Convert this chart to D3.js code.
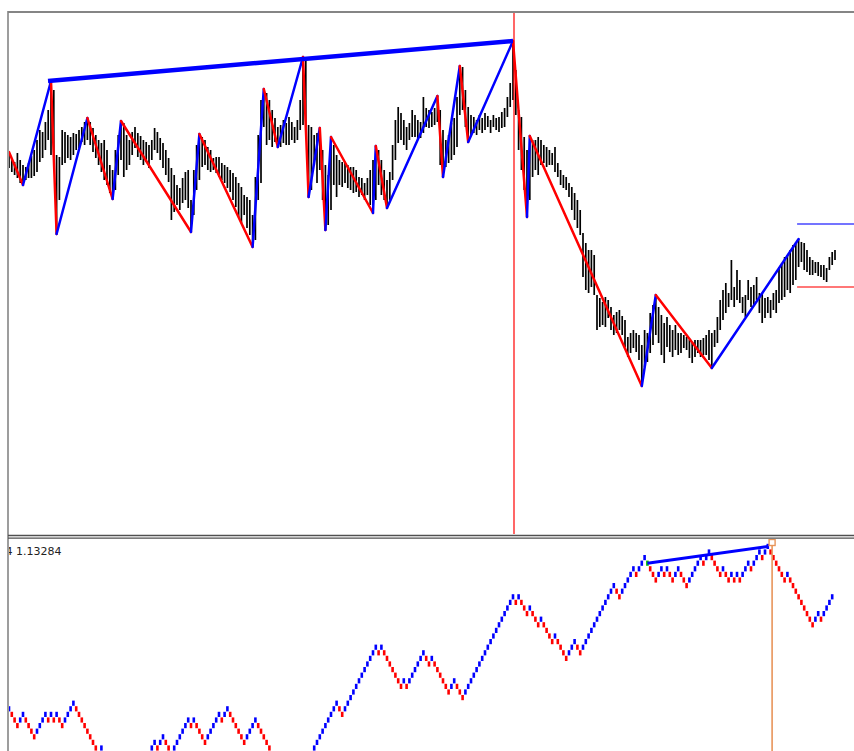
<!DOCTYPE html>
<meta charset="utf-8">
<script src="https://d3js.org/d3.v7.min.js"></script>
<style>
  body { margin: 0; background: #fff; }
</style>
<div id="chart"></div>
<script>

// bar highs / lows (one per bar, left to right)
const barHigh = [
  1.1448,1.1442,1.1438,1.1447,1.1440,1.1435,1.1433,1.1437,1.1444,1.1450,
  1.1460,1.1470,1.1468,1.1478,1.1490,1.1519,1.1510,1.1445,1.1443,1.1470,
  1.1468,1.1465,1.1463,1.1467,1.1466,1.1470,1.1473,1.1478,1.1482,1.1478,
  1.1472,1.1465,1.1460,1.1457,1.1460,1.1450,1.1435,1.1430,1.1450,1.1465,
  1.1479,1.1477,1.1465,1.1460,1.1468,1.1473,1.1467,1.1464,1.1460,1.1458,
  1.1455,1.1460,1.1472,1.1468,1.1462,1.1457,1.1450,1.1442,1.1432,1.1425,
  1.1415,1.1412,1.1422,1.1428,1.1430,1.1400,1.1430,1.1455,1.1466,1.1463,
  1.1460,1.1453,1.1450,1.1442,1.1443,1.1443,1.1437,1.1435,1.1433,1.1430,
  1.1427,1.1423,1.1417,1.1413,1.1405,1.1403,1.1400,1.1385,1.1423,1.1465,
  1.1500,1.1511,1.1507,1.1500,1.1490,1.1482,1.1473,1.1475,1.1480,1.1477,
  1.1483,1.1478,1.1473,1.1480,1.1500,1.1543,1.1540,1.1475,1.1473,1.1465,
  1.1467,1.1472,1.1450,1.1435,1.1425,1.1463,1.1455,1.1445,1.1440,1.1438,
  1.1437,1.1435,1.1433,1.1433,1.1430,1.1423,1.1422,1.1417,1.1422,1.1430,
  1.1440,1.1454,1.1450,1.1440,1.1430,1.1420,1.1428,1.1455,1.1480,1.1493,
  1.1487,1.1480,1.1473,1.1477,1.1490,1.1485,1.1480,1.1478,1.1503,1.1492,
  1.1490,1.1488,1.1492,1.1504,1.1490,1.1470,1.1460,1.1465,1.1477,1.1482,
  1.1503,1.1534,1.1533,1.1510,1.1493,1.1485,1.1483,1.1480,1.1485,1.1482,
  1.1487,1.1484,1.1480,1.1485,1.1482,1.1483,1.1488,1.1492,1.1503,1.1517,
  1.1559,1.1530,1.1490,1.1483,1.1463,1.1450,1.1464,1.1460,1.1460,1.1463,
  1.1460,1.1455,1.1453,1.1450,1.1447,1.1453,1.1437,1.1430,1.1425,1.1423,
  1.1417,1.1413,1.1407,1.1400,1.1390,1.1367,1.1357,1.1350,1.1350,1.1345,
  1.1305,1.1302,1.1298,1.1303,1.1300,1.1293,1.1285,1.1288,1.1290,1.1284,
  1.1280,1.1263,1.1267,1.1270,1.1267,1.1265,1.1255,1.1270,1.1267,1.1287,
  1.1295,1.1305,1.1293,1.1285,1.1277,1.1283,1.1275,1.1270,1.1275,1.1267,
  1.1267,1.1265,1.1263,1.1260,1.1257,1.1260,1.1260,1.1260,1.1262,1.1265,
  1.1270,1.1267,1.1270,1.1283,1.1300,1.1310,1.1317,1.1307,1.1340,1.1313,
  1.1330,1.1320,1.1303,1.1305,1.1320,1.1313,1.1315,1.1323,1.1307,1.1307,
  1.1302,1.1303,1.1300,1.1307,1.1310,1.1333,1.1337,1.1343,1.1345,1.1350,
  1.1355,1.1358,1.1361,1.1358,1.1357,1.1350,1.1343,1.1340,1.1338,1.1338,
  1.1335,1.1335,1.1332,1.1343,1.1348,1.1350
];
const barLow = [
  1.1432,1.1428,1.1425,1.1422,1.1417,1.1415,1.1420,1.1422,1.1422,1.1424,
  1.1428,1.1438,1.1442,1.1450,1.1460,1.1445,1.1443,1.1366,1.1400,1.1435,
  1.1437,1.1442,1.1440,1.1445,1.1450,1.1452,1.1458,1.1455,1.1460,1.1455,
  1.1448,1.1442,1.1435,1.1428,1.1420,1.1415,1.1407,1.1401,1.1410,1.1425,
  1.1440,1.1423,1.1430,1.1435,1.1445,1.1452,1.1443,1.1440,1.1435,1.1438,
  1.1432,1.1440,1.1450,1.1447,1.1440,1.1432,1.1425,1.1418,1.1380,1.1388,
  1.1395,1.1390,1.1397,1.1400,1.1392,1.1368,1.1385,1.1410,1.1420,1.1433,
  1.1435,1.1430,1.1428,1.1430,1.1427,1.1423,1.1420,1.1417,1.1412,1.1408,
  1.1400,1.1393,1.1383,1.1377,1.1385,1.1372,1.1365,1.1353,1.1360,1.1400,
  1.1417,1.1473,1.1455,1.1460,1.1453,1.1458,1.1453,1.1453,1.1457,1.1455,
  1.1455,1.1460,1.1457,1.1460,1.1470,1.1475,1.1470,1.1403,1.1410,1.1435,
  1.1417,1.1430,1.1400,1.1370,1.1375,1.1390,1.1415,1.1403,1.1415,1.1413,
  1.1417,1.1412,1.1410,1.1407,1.1408,1.1403,1.1405,1.1400,1.1405,1.1395,
  1.1387,1.1400,1.1415,1.1405,1.1400,1.1392,1.1400,1.1420,1.1440,1.1457,
  1.1460,1.1455,1.1450,1.1460,1.1463,1.1463,1.1460,1.1462,1.1467,1.1473,
  1.1472,1.1473,1.1475,1.1478,1.1435,1.1423,1.1433,1.1437,1.1440,1.1445,
  1.1453,1.1485,1.1490,1.1473,1.1458,1.1465,1.1467,1.1465,1.1470,1.1467,
  1.1470,1.1473,1.1467,1.1473,1.1470,1.1468,1.1472,1.1473,1.1483,1.1493,
  1.1500,1.1485,1.1450,1.1430,1.1410,1.1383,1.1400,1.1423,1.1430,1.1425,
  1.1435,1.1437,1.1433,1.1435,1.1435,1.1428,1.1423,1.1415,1.1412,1.1410,
  1.1403,1.1390,1.1380,1.1372,1.1365,1.1323,1.1310,1.1307,1.1313,1.1305,
  1.1270,1.1273,1.1275,1.1273,1.1282,1.1270,1.1265,1.1267,1.1270,1.1265,
  1.1253,1.1243,1.1247,1.1252,1.1248,1.1240,1.1214,1.1233,1.1238,1.1247,
  1.1255,1.1265,1.1257,1.1245,1.1237,1.1253,1.1248,1.1243,1.1250,1.1245,
  1.1247,1.1252,1.1250,1.1242,1.1237,1.1243,1.1247,1.1243,1.1245,1.1245,
  1.1240,1.1232,1.1253,1.1257,1.1270,1.1280,1.1287,1.1293,1.1300,1.1293,
  1.1300,1.1297,1.1287,1.1283,1.1300,1.1293,1.1295,1.1300,1.1287,1.1277,
  1.1282,1.1287,1.1282,1.1290,1.1287,1.1297,1.1300,1.1303,1.1310,1.1307,
  1.1315,1.1320,1.1333,1.1338,1.1330,1.1328,1.1325,1.1325,1.1327,1.1324,
  1.1323,1.1320,1.1318,1.1330,1.1335,1.1340
];

// zigzag turning points (bar index, price)
const zzIdx = [0, 5, 15, 17, 28, 37, 40, 65, 68, 87, 91, 96, 105, 107, 111, 113, 115,
  130, 131, 135, 153, 155, 161, 164, 180, 185, 186, 226, 231, 251, 282];
const zzPrice = [1.1448, 1.1415, 1.1519, 1.1366, 1.1482, 1.1401, 1.1479, 1.1368, 1.1466,
  1.1353, 1.1511, 1.1453, 1.1543, 1.1403, 1.1472, 1.1370, 1.1463, 1.1387, 1.1454, 1.1392,
  1.1504, 1.1423, 1.1534, 1.1458, 1.1559, 1.1383, 1.1464, 1.1214, 1.1305, 1.1232, 1.1361];

// thick trend line over the highs
const trendIdx = [15, 180];
const trendPrice = [1.1519, 1.1559];

// red marker bar and the two right-side levels
const markBar = 180;
const levelStart = 282;
const levelUp = 1.1376;
const levelDown = 1.1313;

// lower window: brick level per bar
const renko = [
  7,6,5,4,5,6,5,4,3,2, 3,4,5,6,5,6,5,6,5,4, 5,6,7,8,7,6,5,4,3,2,
  1,0,-1,0,-1,-2,-3,-2,-3,-4, -5,-4,-5,-6,-5,-4,-3,-4,-3,-2,
  -1,0,1,0,1,2,1,0,-1,0, 1,2,3,4,5,4,5,4,3,2, 1,2,3,4,5,6,5,6,7,6,
  5,4,3,2,1,2,3,4,5,4, 3,2,1,0,-1,-2,-3,-4,-3,-4, -5,-6,-5,-4,-3,-4,-3,-2,-1,0,
  1,2,3,4,5,6,7,8,7,6, 7,8,9,10,11,12,13,14,15,16, 17,18,17,18,17,16,15,14,13,12,
  11,12,11,12,13,14,15,16,17,16, 15,16,15,14,13,12,11,10,11,12, 11,10,9,10,11,12,13,14,15,16,
  17,18,19,20,21,22,23,24,25,26, 27,26,27,26,25,24,25,24,23,22, 23,22,21,20,19,20,19,18,17,16,
  17,18,19,18,17,18,19,20,21,22, 23,24,25,26,27,28,29,28,27,28, 29,30,31,32,31,32,33,34,33,32,
  31,30,31,32,31,32,31,30,31,32, 31,30,29,30,31,32,33,34,33,34, 35,34,33,32,31,32,31,30,31,30,
  31,30,31,32,33,32,33,34,35,34, 35,36,35,34,33,32,31,30,31,30, 29,28,27,26,25,24,23,22,23,24,
  23,24,25,26,27
];
const greenBrick = 228;
const renkoTrendIdx = [228, 271];
const renkoTrendLevel = [33, 36];
const renkoMark = 272;
const lowerLabel = "4 1.13284";

const W = 854, H = 751;
const svg = d3.select("#chart").append("svg")
  .attr("width", W).attr("height", H)
  .style("display", "block");

const x = d3.scaleLinear().domain([0, barHigh.length - 1]).range([9, 835]);
const y = d3.scaleLinear().domain([1.1067, 1.1588]).range([533, 12]);
const yLow = d3.scaleLinear().domain([0, 36]).range([748, 546.4]);

const defs = svg.append("defs");
defs.append("clipPath").attr("id", "clipMain")
  .append("rect").attr("x", 9).attr("y", 13).attr("width", W - 9).attr("height", 521);
defs.append("clipPath").attr("id", "clipLow")
  .append("rect").attr("x", 9).attr("y", 539).attr("width", W - 9).attr("height", H - 539);

// ---- main window
const main = svg.append("g").attr("clip-path", "url(#clipMain)");

main.selectAll("line.bar")
  .data(barHigh)
  .join("line")
  .attr("class", "bar")
  .attr("x1", (d, i) => x(i)).attr("x2", (d, i) => x(i))
  .attr("y1", d => y(d))
  .attr("y2", (d, i) => y(barLow[i]))
  .attr("stroke", "#000")
  .attr("stroke-width", 1.7);

// zigzag legs: up = blue, down = red
const legs = d3.range(zzIdx.length - 1).map(k => ({
  i0: zzIdx[k], p0: zzPrice[k], i1: zzIdx[k + 1], p1: zzPrice[k + 1]
}));
main.selectAll("line.leg")
  .data(legs)
  .join("line")
  .attr("class", "leg")
  .attr("x1", d => x(d.i0)).attr("y1", d => y(d.p0))
  .attr("x2", d => x(d.i1)).attr("y2", d => y(d.p1))
  .attr("stroke", d => d.p1 > d.p0 ? "#0000ff" : "#ff0000")
  .attr("stroke-width", 2.5)
  .attr("stroke-linecap", "round");

main.append("line")
  .attr("x1", x(trendIdx[0]) - 3).attr("y1", y(trendPrice[0]))
  .attr("x2", x(trendIdx[1])).attr("y2", y(trendPrice[1]))
  .attr("stroke", "#0000ff")
  .attr("stroke-width", 4.5);

main.append("line")
  .attr("x1", x(markBar) + 1).attr("x2", x(markBar) + 1)
  .attr("y1", 13).attr("y2", 534)
  .attr("stroke", "#ff0000").attr("stroke-width", 1.2);

main.append("line")
  .attr("x1", x(levelStart) - 1.5).attr("x2", W)
  .attr("y1", y(levelUp)).attr("y2", y(levelUp))
  .attr("stroke", "#4646ff").attr("stroke-width", 1.7);
main.append("line")
  .attr("x1", x(levelStart) - 1.5).attr("x2", W)
  .attr("y1", y(levelDown)).attr("y2", y(levelDown))
  .attr("stroke", "#ff4a4a").attr("stroke-width", 1.7);

// ---- lower window
const low = svg.append("g").attr("clip-path", "url(#clipLow)");

low.append("text")
  .attr("x", 5.5).attr("y", 555)
  .attr("font-family", "DejaVu Sans, sans-serif")
  .attr("font-size", 11)
  .attr("fill", "#222")
  .text(lowerLabel);

low.selectAll("rect.brick")
  .data(renko)
  .join("rect")
  .attr("class", "brick")
  .attr("x", (d, i) => x(i) - 1.3)
  .attr("y", d => yLow(d) - 2.6)
  .attr("width", 2.6)
  .attr("height", 5.2)
  .attr("fill", (d, i) => i === greenBrick ? "#00c000"
    : (i === 0 || d > renko[i - 1]) ? "#0000ff" : "#ff0000");

low.append("line")
  .attr("x1", x(renkoTrendIdx[0])).attr("y1", yLow(renkoTrendLevel[0]))
  .attr("x2", x(renkoTrendIdx[1])).attr("y2", yLow(renkoTrendLevel[1]))
  .attr("stroke", "#0000ff").attr("stroke-width", 3);

const mx = x(renkoMark) + 1.5;
low.append("line")
  .attr("x1", mx).attr("x2", mx).attr("y1", 545).attr("y2", H)
  .attr("stroke", "#e8955a").attr("stroke-width", 1.6);
low.append("rect")
  .attr("x", mx - 3).attr("y", 539.5).attr("width", 6).attr("height", 6)
  .attr("fill", "#fff").attr("stroke", "#e8955a").attr("stroke-width", 1.4);

// ---- frame
svg.append("line").attr("x1", 8).attr("x2", W).attr("y1", 12).attr("y2", 12)
  .attr("stroke", "#858585").attr("stroke-width", 2);
svg.append("line").attr("x1", 8).attr("x2", 8).attr("y1", 11).attr("y2", H)
  .attr("stroke", "#858585").attr("stroke-width", 1.6);
svg.append("line").attr("x1", 8).attr("x2", W).attr("y1", 535.5).attr("y2", 535.5)
  .attr("stroke", "#505050").attr("stroke-width", 1.3);
svg.append("line").attr("x1", 8).attr("x2", W).attr("y1", 538.2).attr("y2", 538.2)
  .attr("stroke", "#505050").attr("stroke-width", 1.3);

</script>
